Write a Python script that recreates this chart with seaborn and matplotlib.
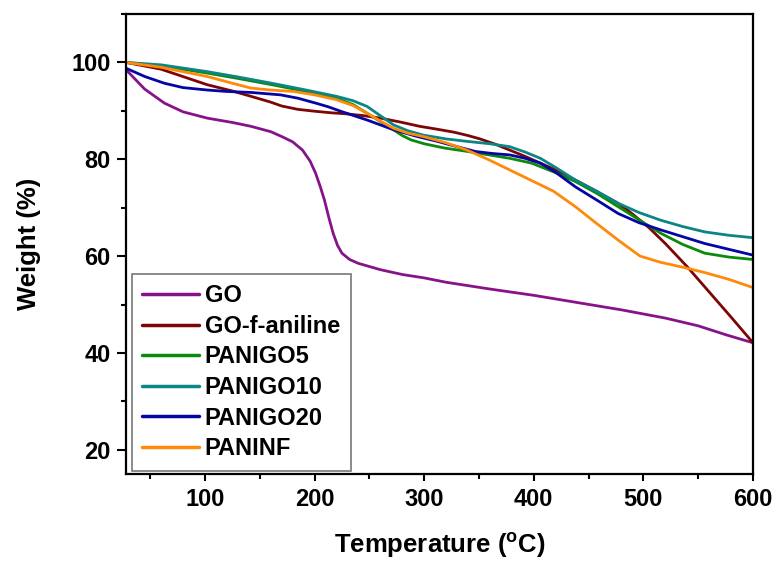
import matplotlib
matplotlib.use("Agg")
import matplotlib.pyplot as plt
import seaborn as sns
import pandas as pd
from matplotlib.ticker import MultipleLocator

# ── data (temperature in °C, weight in %) ─────────────────────────────────────
go_t = [28, 45, 63, 80, 102, 125, 142, 160, 170, 180, 189, 196, 201, 205, 209,
        213, 217, 221, 225, 232, 240, 260, 280, 300, 320, 360, 400, 440, 480,
        520, 550, 576, 600]
go_w = [98.5, 94.5, 91.6, 89.8, 88.5, 87.6, 86.8, 85.7, 84.7, 83.6, 81.9, 79.6,
        77.1, 74.5, 71.6, 68.0, 64.7, 62.2, 60.6, 59.3, 58.5, 57.2, 56.2, 55.5,
        54.6, 53.2, 51.9, 50.4, 48.9, 47.2, 45.6, 43.7, 42.1]

gof_t = [28, 60, 102, 125, 142, 160, 170, 185, 201, 215, 228, 245, 260, 278,
         296, 312, 327, 340, 351, 365, 378, 392, 406, 420, 438, 458, 477, 490,
         505, 520, 540, 560, 580, 600]
gof_w = [100, 98.6, 95.4, 94.1, 93.0, 91.8, 91.0, 90.3, 89.9, 89.6, 89.4, 89.0,
         88.5, 87.7, 86.8, 86.2, 85.6, 84.9, 84.2, 83.1, 81.9, 80.6, 79.2, 77.8,
         75.7, 73.3, 70.9, 68.7, 65.9, 62.6, 57.8, 52.6, 47.4, 42.1]

p5_t = [28, 60, 102, 130, 161, 190, 220, 235, 248, 260, 272, 280, 288, 300,
        319, 340, 359, 378, 398, 418, 438, 458, 477, 496, 516, 536, 556, 578, 600]
p5_w = [100, 99.3, 97.8, 96.7, 95.4, 94.1, 92.6, 91.3, 89.5, 87.8, 86.1, 84.9,
        84.0, 83.2, 82.3, 81.6, 80.9, 80.2, 79.2, 77.4, 75.4, 72.9, 70.2, 67.5,
        64.7, 62.4, 60.6, 59.8, 59.3]

p10_t = [28, 60, 102, 130, 161, 190, 220, 235, 248, 260, 272, 285, 299, 320,
         339, 360, 378, 392, 406, 420, 438, 458, 477, 496, 516, 536, 556, 578, 600]
p10_w = [100, 99.5, 98.1, 97.0, 95.7, 94.4, 93.0, 92.1, 90.9, 89.0, 87.1, 85.9,
         85.0, 84.2, 83.7, 83.2, 82.6, 81.5, 80.2, 78.3, 75.7, 73.3, 70.9, 69.0,
         67.4, 66.1, 65.0, 64.3, 63.8]

p20_t = [28, 45, 63, 80, 102, 120, 142, 169, 185, 201, 213, 224, 236, 248, 260,
         272, 292, 312, 330, 347, 362, 378, 392, 406, 420, 438, 458, 477, 496,
         516, 536, 556, 578, 600]
p20_w = [98.8, 97.1, 95.7, 94.8, 94.3, 94.0, 93.8, 93.3, 92.6, 91.6, 90.8, 89.9,
         89.0, 88.1, 87.1, 86.1, 84.8, 83.7, 82.6, 81.6, 81.2, 80.9, 80.2, 79.2,
         77.3, 74.3, 71.5, 68.8, 66.9, 65.4, 64.0, 62.6, 61.4, 60.2]

pnf_t = [28, 60, 102, 125, 142, 160, 181, 200, 220, 235, 248, 260, 272, 285,
         299, 320, 339, 358, 378, 398, 418, 438, 457, 477, 497, 516, 536, 556,
         578, 600]
pnf_w = [100, 99.0, 97.1, 95.7, 94.7, 94.3, 94.0, 93.3, 92.3, 91.1, 89.5, 87.9,
         86.4, 85.4, 84.7, 83.4, 81.9, 80.0, 77.8, 75.6, 73.4, 70.2, 66.8, 63.3,
         60.0, 58.7, 57.7, 56.6, 55.2, 53.5]

series = [
    ("GO", go_t, go_w, "#86138a"),
    ("GO-f-aniline", gof_t, gof_w, "#7d0505"),
    ("PANIGO5", p5_t, p5_w, "#0b8a0b"),
    ("PANIGO10", p10_t, p10_w, "#0b8585"),
    ("PANIGO20", p20_t, p20_w, "#0505a5"),
    ("PANINF", pnf_t, pnf_w, "#ff8a0a"),
]

# ── style ─────────────────────────────────────────────────────────────────────
sns.set_style("ticks")
plt.rcParams["font.family"] = ["Liberation Sans", "DejaVu Sans"]
plt.rcParams["font.weight"] = "bold"
for key in ("text.color", "axes.labelcolor", "xtick.color", "ytick.color",
            "axes.edgecolor"):
    plt.rcParams[key] = "black"
plt.rcParams["mathtext.fontset"] = "custom"
plt.rcParams["mathtext.rm"] = "Liberation Sans:bold"
plt.rcParams["mathtext.bf"] = "Liberation Sans:bold"

fig = plt.figure(figsize=(7.77, 5.66), dpi=100)
ax = fig.add_axes([126 / 777, 1 - 474 / 566, 627 / 777, 460 / 566])

frames = []
for name, t, w, _ in series:
    frames.append(pd.DataFrame({"Temperature": t, "Weight": w, "Sample": name}))
df = pd.concat(frames, ignore_index=True)

palette = {name: c for name, _, _, c in series}
sns.lineplot(data=df, x="Temperature", y="Weight", hue="Sample",
             hue_order=[s[0] for s in series], palette=palette,
             linewidth=2.0, sort=False, estimator=None, ax=ax)

ax.set_xlim(28, 600)
ax.set_ylim(15, 110)
ax.xaxis.set_major_locator(MultipleLocator(100))
ax.xaxis.set_minor_locator(MultipleLocator(50))
ax.yaxis.set_major_locator(MultipleLocator(20))
ax.yaxis.set_minor_locator(MultipleLocator(10))
ax.tick_params(axis="x", which="major", direction="out", length=5.3, width=1.5,
               labelsize=17, pad=5)
ax.tick_params(axis="y", which="major", direction="out", length=6.7, width=1.5,
               labelsize=17, pad=4.5)
ax.tick_params(which="minor", direction="out", length=3.3, width=1.5)
for lab in ax.get_xticklabels() + ax.get_yticklabels():
    lab.set_fontweight("bold")
for sp in ax.spines.values():
    sp.set_linewidth(1.6)

ax.set_xlabel(r"Temperature ($\mathregular{^o}$C)", fontsize=18.5,
              fontweight="bold")
ax.set_ylabel("Weight (%)", fontsize=18.5, fontweight="bold")
ax.xaxis.set_label_coords(0.5, -0.125)
ax.yaxis.set_label_coords(-0.135, 0.5)

leg = ax.legend(loc="lower left", bbox_to_anchor=(0.009, 0.007),
                borderaxespad=0, fancybox=False, frameon=True,
                prop={"weight": "bold", "size": 17}, handlelength=2.4,
                handletextpad=0.25, labelspacing=0.32, borderpad=0.45)
leg.get_frame().set_edgecolor("#555555")
leg.get_frame().set_linewidth(1.2)
for line in leg.get_lines():
    line.set_linewidth(2.5)

fig.savefig("out.png", dpi=100)
